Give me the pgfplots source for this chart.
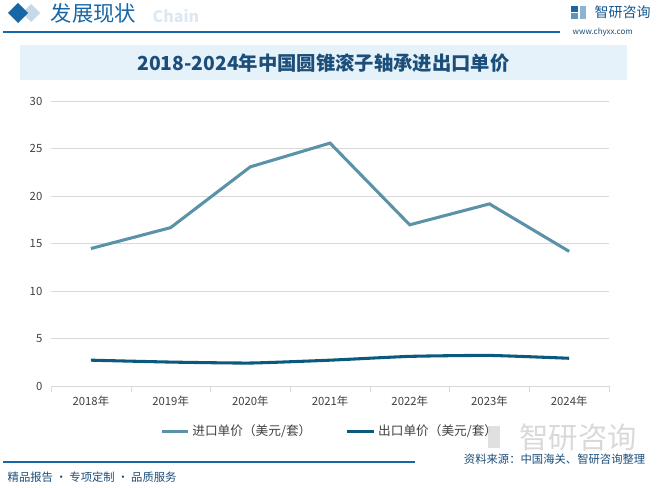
\documentclass[border=0pt]{standalone}
\usepackage{fontspec}
\setmainfont{Noto Sans CJK SC}
\usepackage{pgfplots}
\pgfplotsset{compat=1.18}
\definecolor{imp}{HTML}{5A93A8}
\definecolor{exp}{HTML}{0B5A7E}
\definecolor{hdr}{HTML}{1767A6}
\definecolor{ttl}{HTML}{1C4E7A}
\definecolor{tbox}{HTML}{E6F2FA}
\definecolor{gridc}{HTML}{D9D9D9}
\definecolor{txt}{HTML}{404040}
\begin{document}
\begin{tikzpicture}[x=0.75pt,y=0.75pt]
\useasboundingbox (0,0) rectangle (658,487);
% header
\fill[hdr!25] (31,487-4) -- (40,487-13) -- (31,487-22) -- (22,487-13) -- cycle;
\fill[hdr] (18,487-3) -- (28,487-13) -- (18,487-23) -- (8,487-13) -- cycle;
\node[anchor=west,text=hdr!15,font=\bfseries\fontsize{12}{12}\selectfont] at (148,487-16) {Chain};
\node[anchor=west,text=hdr,font=\fontsize{16}{16}\selectfont] at (46,487-13) {发展现状};
\draw[hdr,line width=1.3pt] (3,487-32) -- (560,487-32);
\fill[hdr] (571,487-6) rectangle (578,487-12);
\fill[hdr!70] (571,487-13) rectangle (578,487-19);
\fill[hdr!50] (580,487-6) rectangle (586,487-19);
\node[anchor=west,text=hdr!85!black,font=\fontsize{10.5}{10.5}\selectfont] at (590,487-12) {智研咨询};
\node[anchor=west,text=ttl,font=\fontsize{6}{6}\selectfont] at (568,487-32) {www.chyxx.com};
% title box
\fill[tbox] (20,487-45) rectangle (627,487-80);
\node[text=ttl,font=\bfseries\fontsize{14.5}{14.5}\selectfont] at (323.5,487-63) {2018-2024年中国圆锥滚子轴承进出口单价};
% watermark logo bottom right
\node[text=black!15,font=\fontsize{22}{22}\selectfont] at (578,487-437) {智研咨询};
\fill[black!12] (488,487-426) rectangle (500,487-448);
\begin{axis}[
  at={(64,106)}, anchor=south west,
  scale only axis, width=418.5pt, height=213.75pt,
  xmin=-0.5, xmax=6.5, ymin=0, ymax=30,
  ytick={0,5,...,30},
  xtick={0,...,6},
  xticklabels={2018年,2019年,2020年,2021年,2022年,2023年,2024年},
  minor xtick={-0.5,0.5,...,6.5},
  major tick length=0pt,
  minor tick length=4pt,
  tick align=outside,
  minor tick style={gridc},
  axis y line*=left,
  axis x line*=bottom,
  x axis line style={gridc,-},
  y axis line style={draw=none},
  ymajorgrids, grid style={gridc,line width=0.6pt},
  tick label style={text=txt,font=\fontsize{8.5}{8.5}\selectfont},
  /pgf/number format/assume math mode=true,
  yticklabel style={xshift=-3pt},
  xticklabel style={yshift=-4pt},
  clip=false,
  legend style={at={(0.5,-0.115)},anchor=north,draw=none,fill=none,
     legend columns=2, font=\fontsize{9.5}{9.5}\selectfont, text=txt,
     /tikz/every even column/.append style={column sep=24pt}},
  legend image code/.code={\draw[#1,line width=2.2pt] (0cm,0cm) -- (0.7cm,0cm);},
]
\addplot[imp, line width=2.3pt] coordinates {(0,14.5) (1,16.7) (2,23.1) (3,25.6) (4,17.0) (5,19.2) (6,14.2)};
\addlegendentry{进口单价（美元/套）}
\addplot[exp, line width=2.3pt, smooth, tension=0.3] coordinates {(0,2.75) (1,2.55) (2,2.45) (3,2.75) (4,3.15) (5,3.25) (6,2.95)};
\addlegendentry{出口单价（美元/套）}
\end{axis}
% footer
\draw[hdr,line width=1pt] (3,487-462) -- (415,487-462);
\node[anchor=east,text=ttl,font=\fontsize{8.5}{8.5}\selectfont] at (650,487-459) {资料来源：中国海关、智研咨询整理};
\node[anchor=west,text=ttl,font=\fontsize{8.5}{8.5}\selectfont] at (3,487-477) {精品报告 · 专项定制 · 品质服务};
\end{tikzpicture}
\end{document}
